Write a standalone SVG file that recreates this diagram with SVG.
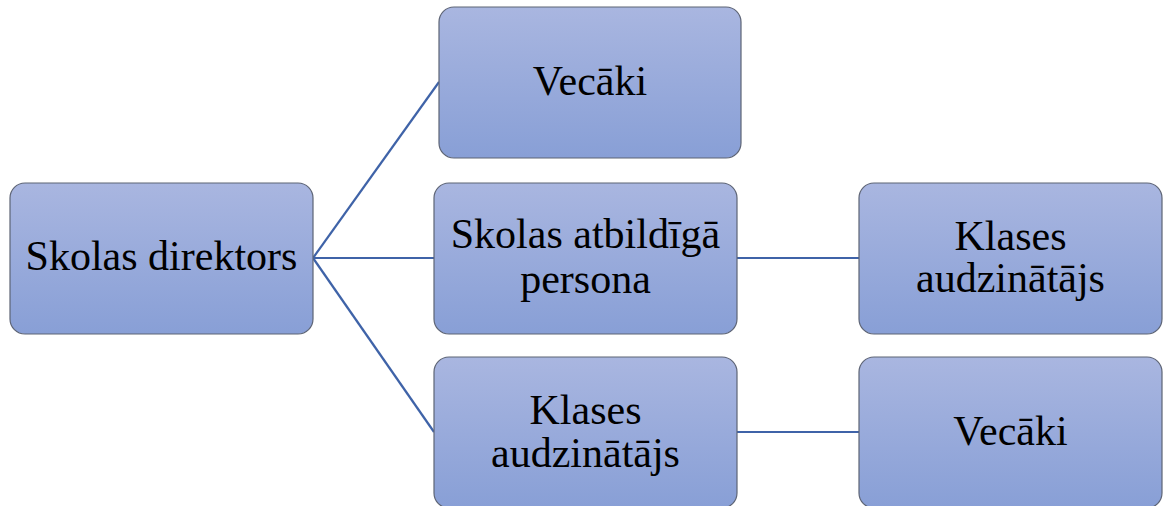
<svg xmlns="http://www.w3.org/2000/svg" width="1165" height="506" viewBox="0 0 1165 506">
  <defs>
    <linearGradient id="g" x1="0" y1="0" x2="0" y2="1">
      <stop offset="0" stop-color="#a9b6e0"/>
      <stop offset="1" stop-color="#889fd6"/>
    </linearGradient>
  </defs>
  <style>
    .box { fill: url(#g); stroke: #5d6475; stroke-width: 1.2; }
    .t { font-size: 42px; fill: #000; text-anchor: middle; }
    .c { stroke: #3f63a8; stroke-width: 2.2; fill: none; }
  </style>
  <rect width="1165" height="506" fill="#ffffff"/>
  <g id="connectors">
    <line class="c" x1="313" y1="258" x2="439" y2="82"/>
    <line class="c" x1="313" y1="258" x2="434" y2="258"/>
    <line class="c" x1="313" y1="258" x2="434" y2="432"/>
    <line class="c" x1="737" y1="258" x2="859" y2="258"/>
    <line class="c" x1="737" y1="432" x2="859" y2="432"/>
  </g>
  <g font-family="Liberation Serif, DejaVu Serif, serif">
  <g id="skolas-direktors">
    <rect class="box" x="10" y="183" width="303" height="151" rx="15"/>
    <text class="t" x="161.5" y="270">Skolas direktors</text>
  </g>
  <g id="vecaki-1">
    <rect class="box" x="439" y="7" width="302" height="151" rx="15"/>
    <text class="t" x="590" y="95">Vecāki</text>
  </g>
  <g id="skolas-atbildiga">
    <rect class="box" x="434" y="183" width="303" height="151" rx="15"/>
    <text class="t" x="585.5" y="248">Skolas atbildīgā</text>
    <text class="t" x="585.5" y="293">persona</text>
  </g>
  <g id="klases-1">
    <rect class="box" x="434" y="357" width="303" height="151" rx="15"/>
    <text class="t" x="585.5" y="424">Klases</text>
    <text class="t" x="585.5" y="467">audzinātājs</text>
  </g>
  <g id="klases-2">
    <rect class="box" x="859" y="183" width="303" height="151" rx="15"/>
    <text class="t" x="1010.5" y="250">Klases</text>
    <text class="t" x="1010.5" y="292">audzinātājs</text>
  </g>
  <g id="vecaki-2">
    <rect class="box" x="859" y="357" width="303" height="151" rx="15"/>
    <text class="t" x="1010.5" y="445">Vecāki</text>
  </g>
  </g>
</svg>
